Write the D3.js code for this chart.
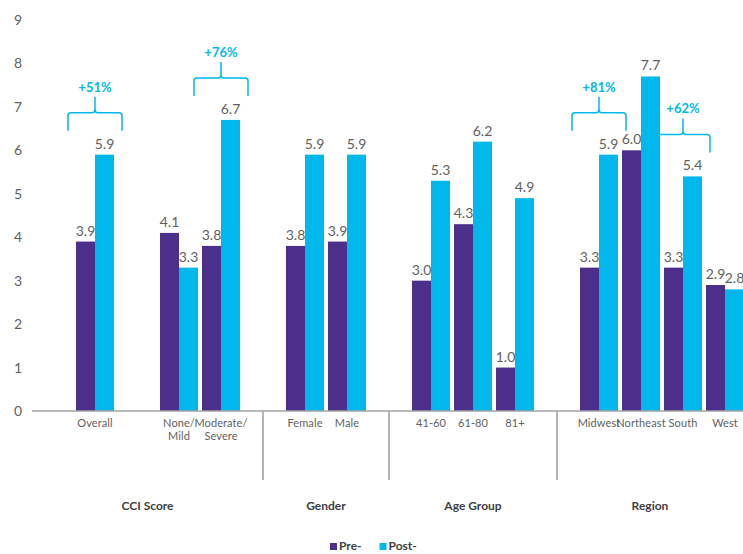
<!DOCTYPE html>
<html>
<head>
<meta charset="utf-8">
<script src="https://cdn.jsdelivr.net/npm/d3@7"></script>
<style>
  html, body { margin: 0; padding: 0; background: #ffffff; }
  svg { display: block; font-family: Lato, "Open Sans", sans-serif; }
</style>
</head>
<body>
<svg id="chart" width="743" height="554"></svg>
<script>
// Category slots along the x axis; empty strings are spacer slots.
const categories = ["", "Overall", "", "None/ Mild", "Moderate/ Severe", "",
  "Female", "Male", "", "41-60", "61-80", "81+", "",
  "Midwest", "Northeast", "South", "West"];
const seriesNames = ["Pre-", "Post-"];
const preValues  = [null, 3.9, null, 4.1, 3.8, null, 3.8, 3.9, null, 3.0, 4.3, 1.0, null, 3.3, 6.0, 3.3, 2.9];
const postValues = [null, 5.9, null, 3.3, 6.7, null, 5.9, 5.9, null, 5.3, 6.2, 4.9, null, 5.9, 7.7, 5.4, 2.8];
const yTicks = [0, 1, 2, 3, 4, 5, 6, 7, 8, 9];

// Group headings and the spacer slots that separate the groups.
const groupNames = ["CCI Score", "Gender", "Age Group", "Region"];
const groupBreaks = [5, 8, 12];

// Percent-change callouts.
const calloutCategories = ["Overall", "Moderate/ Severe", "Midwest", "South"];
const calloutLabels = ["+51%", "+76%", "+81%", "+62%"];

const colors = { "Pre-": "#4b2f8a", "Post-": "#00b8ec" };
const textGrey = "#5f5f5f";
const axisGrey = "#a3a3a3";

const W = 743, H = 554;
const svg = d3.select("#chart");

const x = d3.scaleBand().domain(d3.range(categories.length)).range([32, 746]).paddingInner(0).paddingOuter(0);
const x1 = d3.scaleBand().domain(seriesNames).range([0, x.bandwidth()]).paddingInner(0).paddingOuter(0.105);
const y = d3.scaleLinear().domain([0, 9]).range([411, 20]);

// y tick labels (no axis line)
const yAxis = d3.axisLeft(y).tickValues(yTicks).tickSize(0).tickPadding(0).tickFormat(d3.format("d"));
const yg = svg.append("g").attr("transform", "translate(22,0)").call(yAxis);
yg.select(".domain").remove();
yg.selectAll("text").attr("fill", textGrey).attr("font-size", 14).attr("font-family", "Lato, sans-serif").attr("font-weight", 400);

// bars
const rows = categories.map((c, i) => ({ i, c, vals: [
  { s: "Pre-", v: preValues[i] }, { s: "Post-", v: postValues[i] }
].filter(d => d.v !== null) }));

const slot = svg.append("g").selectAll("g").data(rows).join("g")
  .attr("transform", d => `translate(${x(d.i)},0)`);

slot.selectAll("rect").data(d => d.vals).join("rect")
  .attr("x", d => x1(d.s))
  .attr("width", x1.bandwidth())
  .attr("y", d => y(d.v))
  .attr("height", d => y(0) - y(d.v))
  .attr("fill", d => colors[d.s]);

slot.selectAll("text.val").data(d => d.vals).join("text")
  .attr("class", "val")
  .attr("x", d => x1(d.s) + x1.bandwidth() / 2)
  .attr("y", d => y(d.v) - 6)
  .attr("text-anchor", "middle")
  .attr("font-size", 14)
  .attr("font-weight", 400)
  .attr("fill", textGrey)
  .text(d => d3.format(".1f")(d.v));

// x axis line
svg.append("line").attr("x1", 32).attr("x2", W).attr("y1", y(0)).attr("y2", y(0))
  .attr("stroke", axisGrey).attr("stroke-width", 1.6);

// category labels (split after a slash onto two lines)
const catLabels = svg.append("g").selectAll("text").data(rows.filter(d => d.c !== "")).join("text")
  .attr("text-anchor", "middle")
  .attr("font-size", 11)
  .attr("letter-spacing", 0.1)
  .attr("fill", textGrey)
  .attr("transform", d => `translate(${x(d.i) + x.bandwidth() / 2},${y(0) + 16})`);
catLabels.selectAll("tspan").data(d => d.c.split(/(?<=\/)\s/)).join("tspan")
  .attr("x", 0)
  .attr("dy", (d, k) => k === 0 ? 0 : 13)
  .text(d => d);

// group dividers
const breakX = groupBreaks.map(b => x(b) + x.bandwidth() / 2);
svg.append("g").selectAll("line").data(breakX).join("line")
  .attr("x1", d => d).attr("x2", d => d)
  .attr("y1", y(0)).attr("y2", y(0) + 69)
  .attr("stroke", axisGrey).attr("stroke-width", 1.6);

// group headings, centred between the dividers
const bounds = [32, ...breakX, W];
svg.append("g").selectAll("text").data(groupNames).join("text")
  .attr("x", (d, k) => (bounds[k] + bounds[k + 1]) / 2)
  .attr("y", 510)
  .attr("text-anchor", "middle")
  .attr("font-size", 12)
  .attr("font-weight", 700)
  .attr("fill", "#404040")
  .text(d => d);

// percent-change callouts with curly braces
const brace = (xl, xr, yb, yt, ytip) => {
  const r = 3, xc = (xl + xr) / 2;
  return `M${xl},${yb} L${xl},${yt + r} Q${xl},${yt} ${xl + r},${yt} L${xc - r},${yt} Q${xc},${yt} ${xc},${yt - r} L${xc},${ytip}`
    + ` M${xc},${yt - r} Q${xc},${yt} ${xc + r},${yt} L${xr - r},${yt} Q${xr},${yt} ${xr},${yt + r} L${xr},${yb}`;
};
const callouts = calloutCategories.map((c, k) => {
  const i = categories.indexOf(c);
  const top = y(postValues[i]);
  const xl = x(i) + x1("Pre-") - 8;
  const xr = x(i) + x1("Post-") + x1.bandwidth() + 8;
  return { label: calloutLabels[k], xl, xr, yb: top - 24, yt: top - 42, ytip: top - 58 };
});
const cg = svg.append("g").selectAll("g").data(callouts).join("g");
cg.append("path")
  .attr("d", d => brace(d.xl, d.xr, d.yb, d.yt, d.ytip))
  .attr("fill", "none").attr("stroke", colors["Post-"]).attr("stroke-width", 1.5);
cg.append("text")
  .attr("x", d => (d.xl + d.xr) / 2)
  .attr("y", d => d.ytip - 5)
  .attr("text-anchor", "middle")
  .attr("font-size", 13)
  .attr("font-weight", 700)
  .attr("fill", colors["Post-"])
  .text(d => d.label);

// legend
const legend = svg.append("g").attr("transform", "translate(330,550)");
let lx = 0;
seriesNames.forEach(s => {
  const item = legend.append("g").attr("transform", `translate(${lx},0)`);
  item.append("rect").attr("x", 0).attr("y", -7).attr("width", 7).attr("height", 7).attr("fill", colors[s]);
  const t = item.append("text").attr("x", 9).attr("y", 0)
    .attr("font-size", 12).attr("font-weight", 700).attr("fill", "#404040").text(s);
  lx += 9 + t.node().getComputedTextLength() + 18;
});
</script>
</body>
</html>
